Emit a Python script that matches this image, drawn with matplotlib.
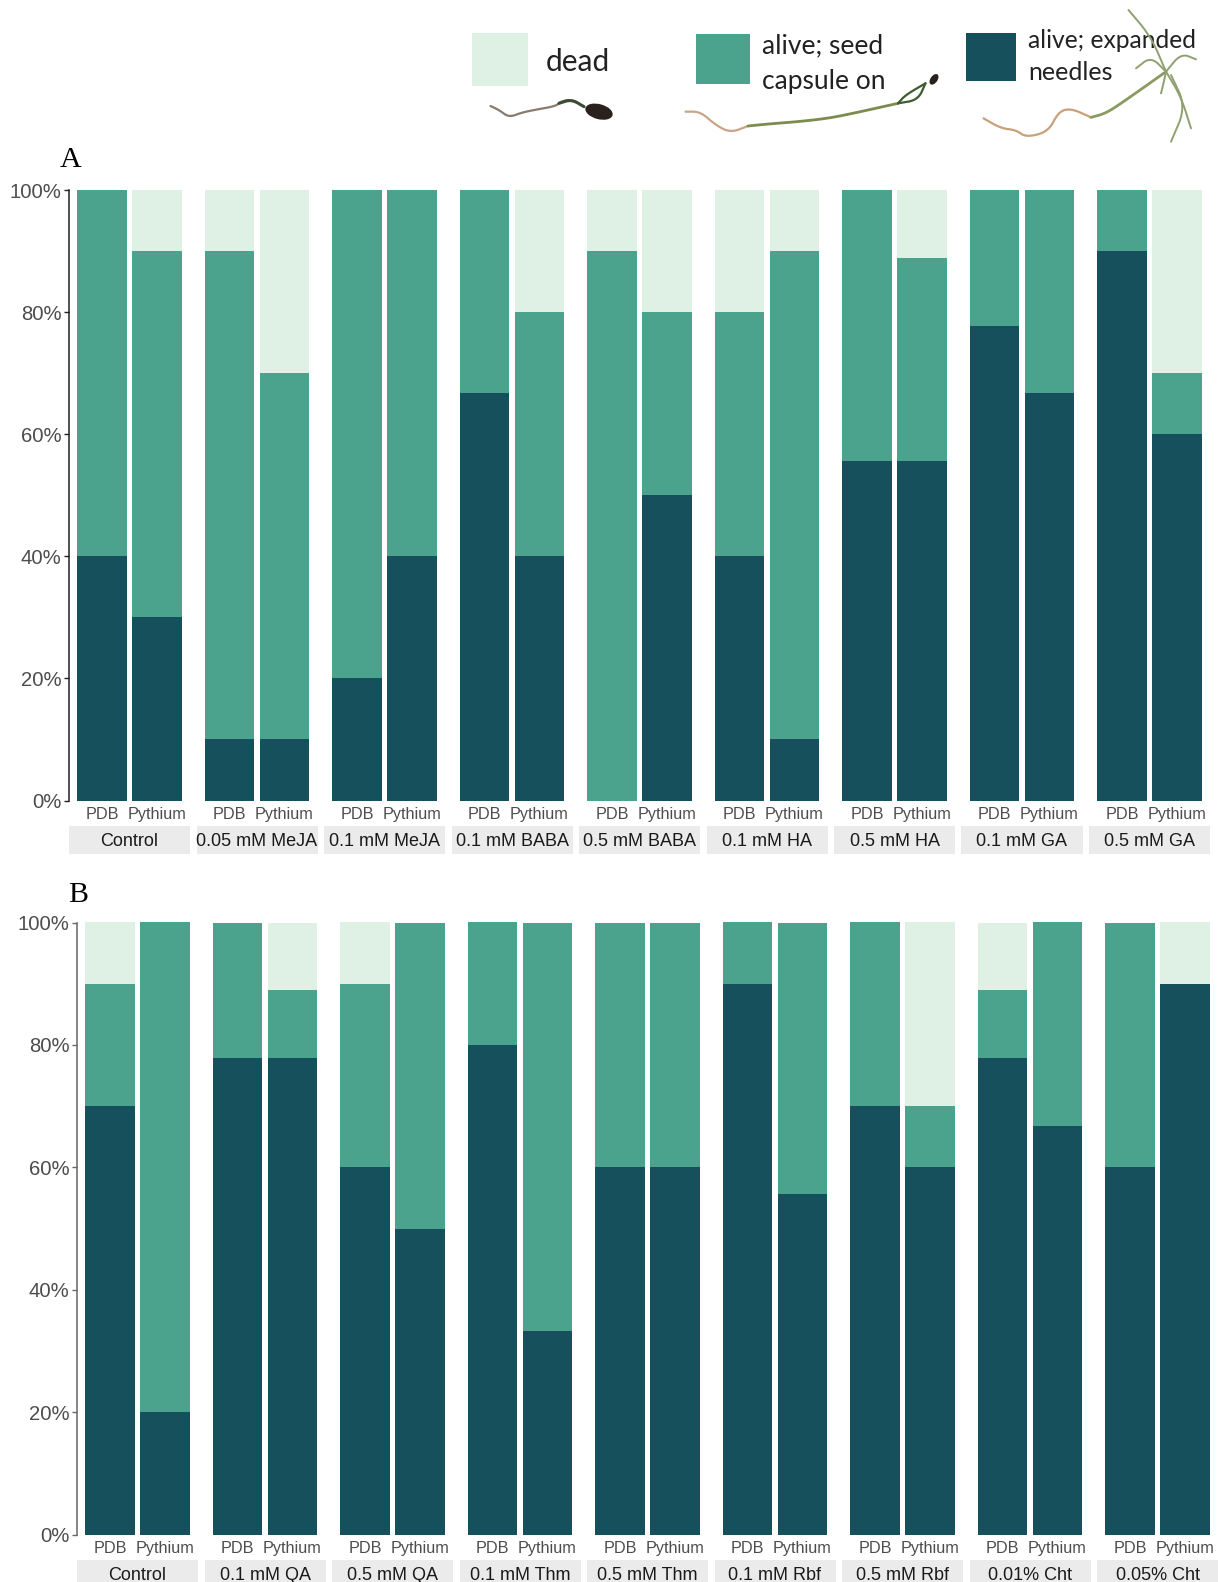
import matplotlib
matplotlib.use("Agg")
import matplotlib.pyplot as plt
from matplotlib.patches import Rectangle, Ellipse

W, H = 1218, 1582
plt.rcParams['font.family'] = ['Liberation Sans', 'DejaVu Sans']

sources = ['PDB', 'Pythium']
colors = {'dark': '#15505c', 'mid': '#4ba38d', 'dead': '#dff0e5'}

treat_a = ['Control', '0.05 mM MeJA', '0.1 mM MeJA', '0.1 mM BABA', '0.5 mM BABA',
           '0.1 mM HA', '0.5 mM HA', '0.1 mM GA', '0.5 mM GA']
needles_a = [[40, 30], [10, 10], [20, 40], [66.7, 40], [0, 50], [40, 10], [55.6, 55.6], [77.8, 66.7], [90, 60]]
capsule_a = [[60, 60], [80, 60], [80, 60], [33.3, 40], [90, 30], [40, 80], [44.4, 33.3], [22.2, 33.3], [10, 10]]
dead_a = [[0, 10], [10, 30], [0, 0], [0, 20], [10, 20], [20, 10], [0, 11.1], [0, 0], [0, 30]]

treat_b = ['Control', '0.1 mM QA', '0.5 mM QA', '0.1 mM Thm', '0.5 mM Thm',
           '0.1 mM Rbf', '0.5 mM Rbf', '0.01% Cht', '0.05% Cht']
needles_b = [[70, 20], [77.8, 77.8], [60, 50], [80, 33.3], [60, 60], [90, 55.6], [70, 60], [77.8, 66.7], [60, 90]]
capsule_b = [[20, 80], [22.2, 11.1], [30, 50], [20, 66.7], [40, 40], [10, 44.4], [30, 10], [11.1, 33.3], [40, 0]]
dead_b = [[10, 0], [0, 11.1], [10, 0], [0, 0], [0, 0], [0, 0], [0, 30], [11.1, 0], [0, 10]]

yticks = [0, 20, 40, 60, 80, 100]

fig = plt.figure(figsize=(W / 100, H / 100), dpi=100, facecolor='white')


def panel(x0, top, bottom, treats, nd, cp, de, spine):
    pitch, fw = 127.5, 121
    for i, name in enumerate(treats):
        ax = fig.add_axes([(x0 + pitch * i) / W, 1 - bottom / H, fw / W, (bottom - top) / H])
        for j in range(2):
            ax.bar(j + 1, nd[i][j], 0.9, color=colors['dark'], linewidth=0)
            ax.bar(j + 1, cp[i][j], 0.9, bottom=nd[i][j], color=colors['mid'], linewidth=0)
            ax.bar(j + 1, de[i][j], 0.9, bottom=nd[i][j] + cp[i][j], color=colors['dead'], linewidth=0)
        ax.set_xlim(0.4, 2.6)
        ax.set_ylim(0, 100)
        ax.set_xticks([1, 2], sources, fontsize=11.7, color='#4d4d4d')
        ax.tick_params(axis='x', length=0, pad=5)
        for s in ['top', 'right', 'bottom']:
            ax.spines[s].set_visible(False)
        if i == 0:
            ax.set_yticks(yticks, [f'{t}%' for t in yticks], fontsize=14.6, color='#4d4d4d')
            ax.tick_params(axis='y', length=3.5, width=1, color=spine, pad=2)
            ax.spines['left'].set_color(spine)
            ax.spines['left'].set_linewidth(1.1)
        else:
            ax.set_yticks([])
            ax.spines['left'].set_visible(False)
        ax.patch.set_visible(False)
        strip = Rectangle(((x0 + pitch * i) / W, 1 - (bottom + 53) / H), fw / W, 28 / H,
                          transform=fig.transFigure, facecolor='#ebebeb', edgecolor='none')
        fig.add_artist(strip)
        fig.text((x0 + pitch * i + fw / 2) / W, 1 - (bottom + 41) / H, name, ha='center', va='center',
                 fontsize=13, color='#1a1a1a')


panel(69, 190, 800.5, treat_a, needles_a, capsule_a, dead_a, '#222222')
panel(77, 922.5, 1534.5, treat_b, needles_b, capsule_b, dead_b, '#666666')

fig.text(60 / W, 1 - 167 / H, 'A', family='Liberation Serif', fontsize=21.6, color='black')
fig.text(68 / W, 1 - 902 / H, 'B', family='Liberation Serif', fontsize=21.6, color='black')

# legend overlay in pixel coordinates
ov = fig.add_axes([0, 0, 1, 1], zorder=5)
ov.set_xlim(0, W)
ov.set_ylim(H, 0)
ov.axis('off')
for x, y, w, h, c in [(471.5, 33, 56, 53, 'dead'), (696, 33.5, 53.5, 50.5, 'mid'), (966, 33, 50, 48, 'dark')]:
    ov.add_patch(Rectangle((x, y), w, h, facecolor=colors[c], edgecolor='none'))
for x, y, t, fs in [(546, 62, 'dead', 21.5), (762, 46, 'alive; seed', 19), (762, 82, 'capsule on', 19),
                    (1028, 41, 'alive; expanded', 17.7), (1028, 72, 'needles', 18)]:
    ov.text(x, y, t, family='Lato', fontsize=fs, color='#222222', va='center', ha='left')


def smooth(points, rounds=3):
    pts = list(points)
    for _ in range(rounds):
        new = [pts[0]]
        for a, b in zip(pts[:-1], pts[1:]):
            new.append((0.75 * a[0] + 0.25 * b[0], 0.75 * a[1] + 0.25 * b[1]))
            new.append((0.25 * a[0] + 0.75 * b[0], 0.25 * a[1] + 0.75 * b[1]))
        new.append(pts[-1])
        pts = new
    return pts


def line(points, color, lw=1.6, dx=0):
    pts = smooth(points)
    ov.plot([440 + dx + p[0] / 2 for p in pts], [p[1] / 3 for p in pts], color=color, lw=lw,
            solid_capstyle='round', solid_joinstyle='round', zorder=6)


# dead seedling
line([(103, 318), (120, 330), (140, 352), (165, 338), (190, 330), (235, 318), (242, 305), (265, 298), (290, 320)], '#8a7a6c', dx=-1)
line([(240, 310), (265, 298), (290, 320)], '#3d4a38', 2.2, dx=-1)
ov.add_patch(Ellipse((439 + 320 / 2, 335 / 3), 28, 15, angle=15, facecolor='#2b211c', edgecolor='none', zorder=6))
# seedling with seed capsule
line([(495, 335), (525, 335), (555, 375), (585, 398), (620, 378)], '#c9a488', dx=-2)
line([(620, 378), (660, 372), (720, 365), (780, 355), (830, 340), (920, 310)], '#7c8c4e', 2, dx=-2)
line([(920, 310), (935, 285), (975, 250)], '#3f5b30', 1.6, dx=-2)
line([(920, 310), (960, 300), (975, 250)], '#3f5b30', 1.6, dx=-2)
ov.add_patch(Ellipse((438 + 992 / 2, 238 / 3), 7, 12, angle=35, facecolor='#2b211c', edgecolor='none', zorder=6))
# seedling with expanded needles
line([(1095, 355), (1130, 385), (1160, 390), (1180, 412), (1225, 395), (1245, 335), (1270, 325), (1310, 352)], '#c9a07a', dx=-4)
line([(1310, 352), (1340, 340), (1380, 300), (1460, 215)], '#8a9a60', 2, dx=-4)
for pts in [[(1460, 215), (1430, 110), (1385, 30)],
            [(1460, 215), (1430, 170), (1400, 205)],
            [(1460, 215), (1490, 160), (1520, 178)],
            [(1460, 215), (1455, 250), (1450, 280)],
            [(1460, 215), (1490, 290), (1510, 385)],
            [(1470, 225), (1500, 320), (1470, 425)]]:
    line(pts, '#8fa070', 1.4, dx=-4)

fig.savefig('out.png', dpi=100, facecolor='white')
